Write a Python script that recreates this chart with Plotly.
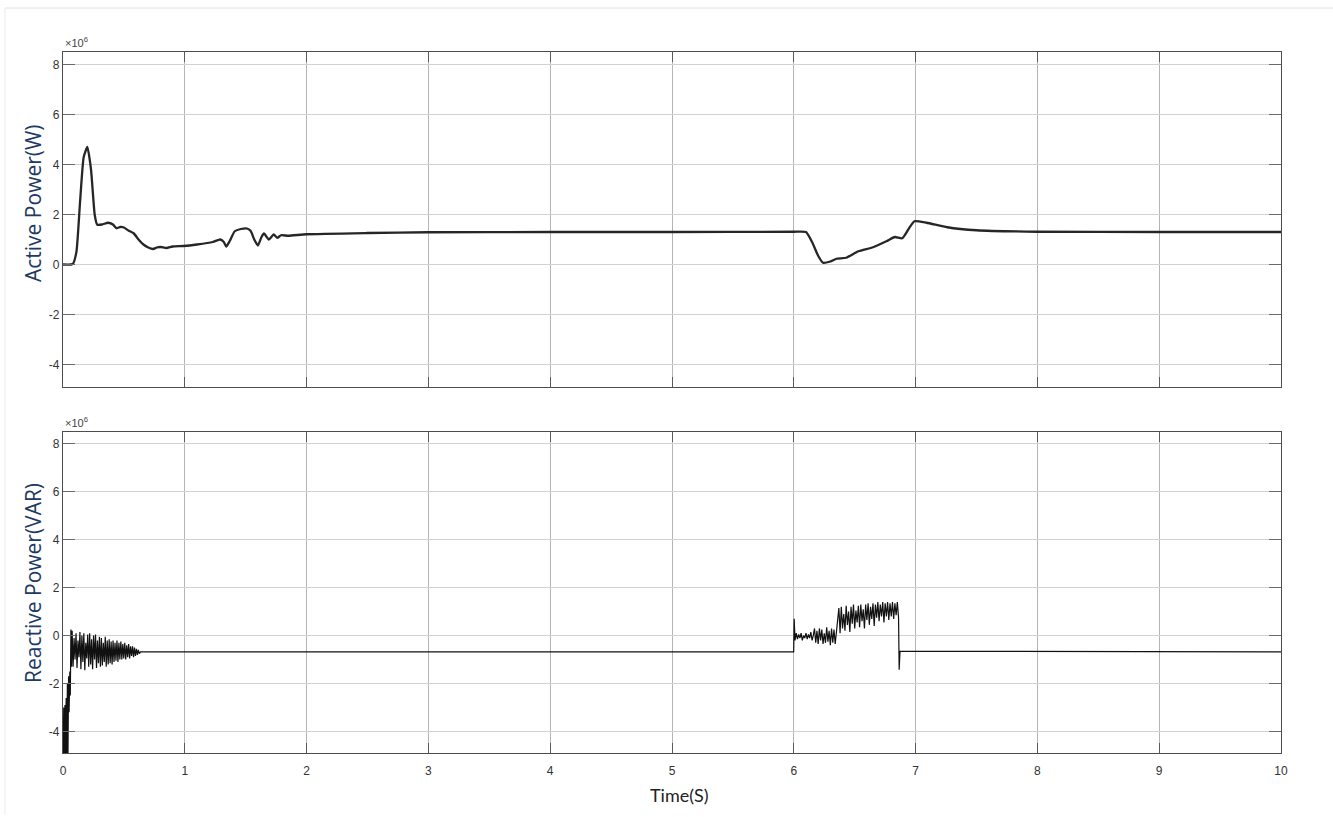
import numpy as np
import plotly.graph_objects as go
from plotly.subplots import make_subplots

# ---------------- Active power (x10^6 W) ----------------
p_time = [0, 0.08, 0.11, 0.14, 0.17, 0.2, 0.23, 0.26, 0.28, 0.32, 0.37, 0.41, 0.44, 0.47,
          0.50, 0.54, 0.58, 0.62, 0.66, 0.70, 0.74, 0.77, 0.80, 0.85, 0.90, 0.99, 1.1, 1.23,
          1.29, 1.32, 1.34, 1.37, 1.41, 1.46, 1.51, 1.54, 1.57, 1.60, 1.63, 1.65, 1.69, 1.73,
          1.76, 1.79, 1.85, 2.0, 2.5, 3.0, 4.0, 5.0, 6.0, 6.1, 6.15, 6.2, 6.24, 6.3, 6.35,
          6.43, 6.53, 6.65, 6.76, 6.83, 6.89, 6.94, 6.99, 7.09, 7.26, 7.5, 8.0, 9.0, 10.0]
p_value = [0, 0.02, 0.5, 2.5, 4.3, 4.7, 3.8, 2.0, 1.6, 1.6, 1.67, 1.6, 1.45, 1.5,
           1.48, 1.35, 1.25, 1.0, 0.8, 0.68, 0.62, 0.68, 0.7, 0.66, 0.72, 0.74, 0.8, 0.9,
           1.0, 0.9, 0.72, 0.95, 1.33, 1.42, 1.44, 1.35, 1.0, 0.76, 1.1, 1.24, 1.0, 1.2,
           1.07, 1.17, 1.15, 1.21, 1.26, 1.29, 1.3, 1.3, 1.31, 1.3, 0.9, 0.35, 0.07, 0.12, 0.23,
           0.27, 0.53, 0.69, 0.93, 1.1, 1.05, 1.4, 1.73, 1.67, 1.49, 1.37, 1.31, 1.3, 1.3]

# ---------------- Reactive power (x10^6 VAR) ----------------
q_start_time = [0, 0.006, 0.010, 0.016, 0.020, 0.026, 0.030, 0.036, 0.040, 0.046,
                0.050, 0.056, 0.060, 0.065, 0.070]
q_start_value = [-6.0, -3.0, -6.0, -2.9, -6.0, -2.6, -6.0, -2.0, -5.5, -1.7,
                 -3.2, -1.5, -2.5, 0.25, -1.3]

q_osc1_t0, q_osc1_dt = 0.075, 0.008
q_osc1_value = [0.2, -1.3, -0.1, -1.0, 0.1, -1.35, -0.2, -0.9, 0.15, -1.4,
                0.0, -1.1, 0.1, -1.45, -0.3, -0.95, 0.05, -1.3, 0.1, -1.2,
                -0.15, -1.4, 0.0, -1.0, 0.05, -1.35, -0.2, -1.15, -0.05, -1.3,
                -0.1, -1.25, -0.3, -1.1, -0.05, -1.3, -0.2, -1.2, -0.15, -1.15,
                -0.25, -1.2, -0.2, -1.1, -0.3, -1.05, -0.2, -1.1, -0.3, -1.0,
                -0.25, -1.0, -0.35, -0.95, -0.3, -1.0, -0.4, -0.9, -0.35, -0.95,
                -0.45, -0.85, -0.45, -0.9, -0.5, -0.85, -0.55, -0.8, -0.6, -0.75]

q_steady_value = -0.68

q_osc2_time_head = [6.0, 6.003, 6.01]
q_osc2_value_head = [-0.68, 0.7, -0.2]
q_osc2_t0, q_osc2_dt = 6.02, 0.01
q_osc2_value = [0.1, -0.15, 0.05, -0.1, 0.1, -0.2, 0.0, -0.1, 0.1, -0.15, 0.05, -0.1, 0.15, -0.2, 0.0,
                0.3, -0.3, 0.2, -0.35, 0.3, -0.2, 0.25, -0.35, 0.1, -0.3, 0.35, -0.25, 0.2, -0.4, 0.3,
                -0.3, 0.25, -0.35, 0.1, 0.5,
                1.15, 0.1, 1.2, 0.3, 0.9, 0.2, 1.25, 0.45, 1.0, 0.15, 1.2, 0.5, 1.3, 0.3, 1.05,
                0.55, 1.25, 0.35, 1.3, 0.6, 1.1, 0.3, 1.3, 0.65, 1.35, 0.45, 1.2, 0.7, 1.35, 0.4,
                1.3, 0.75, 1.4, 0.6, 1.3, 0.8, 1.4, 0.55, 1.35, 0.8, 1.4, 0.65, 1.35, 0.8, 1.4,
                0.7, 1.35, 0.85, 1.4, 0.75]
q_tail_time = [6.865, 6.872, 10.0]
q_tail_value = [-1.42, -0.65, q_steady_value]

x_ticks = list(range(0, 11))
x_tick_labels = [str(v) for v in x_ticks]
y_ticks = [-4, -2, 0, 2, 4, 6, 8]
y_tick_labels = ["-4", "-2", "0", "2", "4", "6", "8"]
y_range = [-4.9, 8.5]

# build reactive series
q_osc1_time = [q_osc1_t0 + i * q_osc1_dt for i in range(len(q_osc1_value))]
q_osc2_time = [q_osc2_t0 + i * q_osc2_dt for i in range(len(q_osc2_value))]
q_time = (q_start_time + q_osc1_time + [q_osc1_time[-1] + 0.01, 6.0 - 0.001]
          + q_osc2_time_head[1:] + q_osc2_time + q_tail_time)
q_value = (q_start_value + q_osc1_value + [q_steady_value, q_steady_value]
           + q_osc2_value_head[1:] + q_osc2_value + q_tail_value)

W, H = 1333, 817
L, R, T, B = 63, 52, 52, 64
plot_w = W - L - R
plot_h = H - T - B
top_bottom_px, bot_top_px = 387, 432

def paper_y(px):
    return (H - B - px) / plot_h

def paper_x(px):
    return (px - L) / plot_w

fig = make_subplots(rows=2, cols=1)

fig.add_trace(go.Scatter(x=p_time, y=p_value, mode="lines",
                         line=dict(color="#262626", width=2.3, shape="spline", smoothing=0.5),
                         showlegend=False), row=1, col=1)
fig.add_trace(go.Scatter(x=q_time, y=q_value, mode="lines",
                         line=dict(color="#111111", width=1.2),
                         showlegend=False), row=2, col=1)

tick_font = dict(family="Liberation Sans, Arial", size=12, color="#333333")
axis_common = dict(range=[0, 10], tickvals=x_ticks, ticktext=x_tick_labels, showgrid=True,
                   gridcolor="#b5b5b5", gridwidth=1, showline=True, linecolor="#4d4d4d",
                   linewidth=1.2, mirror="ticks", ticks="inside", ticklen=10,
                   tickcolor="#5a5a5a", zeroline=False, tickfont=tick_font)
yaxis_common = dict(range=y_range, tickvals=y_ticks, ticktext=y_tick_labels, showgrid=True,
                    gridcolor="#d2d2d2", gridwidth=1.2, showline=True, linecolor="#4d4d4d",
                    linewidth=1.2, mirror="ticks", ticks="inside", ticklen=12,
                    tickcolor="#6a6a6a", zeroline=False, tickfont=tick_font)

fig.update_layout(
    width=W, height=H,
    margin=dict(l=L, r=R, t=T, b=B),
    paper_bgcolor="white", plot_bgcolor="white",
    xaxis=dict(axis_common, domain=[0, 1], showticklabels=False, anchor="y"),
    xaxis2=dict(axis_common, domain=[0, 1], anchor="y2", ticklabelstandoff=6),
    yaxis=dict(yaxis_common, domain=[paper_y(top_bottom_px), 1], anchor="x"),
    yaxis2=dict(yaxis_common, domain=[0, paper_y(bot_top_px)], anchor="x2"),
)

ann_font = dict(family="Open Sans", size=21, color="#203a63")
fig.add_annotation(text="Active Power(W)", xref="paper", yref="paper",
                   x=paper_x(33), y=paper_y(203), textangle=-90,
                   showarrow=False, font=ann_font, xanchor="center", yanchor="middle")
fig.add_annotation(text="Reactive Power(VAR)", xref="paper", yref="paper",
                   x=paper_x(33), y=paper_y(583), textangle=-90,
                   showarrow=False, font=ann_font, xanchor="center", yanchor="middle")
fig.add_annotation(text="Time(S)", xref="paper", yref="paper",
                   x=paper_x(679), y=paper_y(795),
                   showarrow=False, font=dict(family="Lato", size=18, color="#222222"),
                   xanchor="center", yanchor="middle")
for ypx in (42, 422):
    fig.add_annotation(text="×10<sup>6</sup>", xref="paper", yref="paper",
                       x=0, y=paper_y(ypx), showarrow=False,
                       font=dict(family="Liberation Sans, Arial", size=11, color="#444444"),
                       xanchor="left", yanchor="middle")

# faint image border lines
fig.add_shape(type="line", xref="paper", yref="paper",
              x0=paper_x(5), x1=1 + R / plot_w,
              y0=paper_y(8), y1=paper_y(8), line=dict(color="#e2e2e2", width=1))
fig.add_shape(type="line", xref="paper", yref="paper",
              x0=paper_x(5), x1=paper_x(5),
              y0=paper_y(8), y1=paper_y(815), line=dict(color="#ececec", width=1))

fig.write_html("out.html")
